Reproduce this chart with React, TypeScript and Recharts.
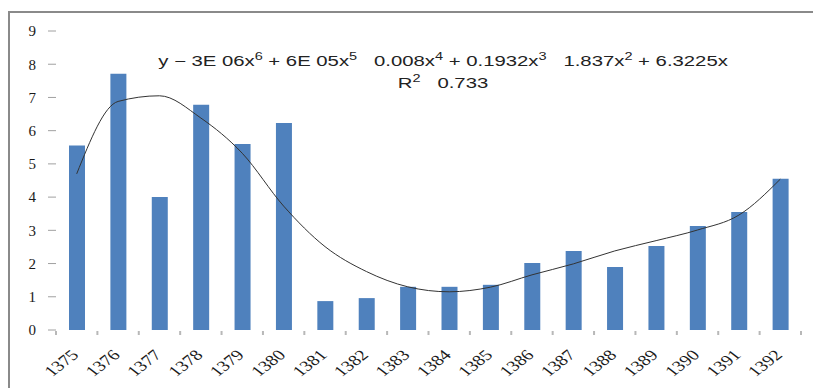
import React from 'react';
import { ComposedChart, Bar, Line, XAxis, YAxis } from 'recharts';

// yearly values (solar hijri years)
const years = ['1375', '1376', '1377', '1378', '1379', '1380', '1381', '1382', '1383', '1384', '1385', '1386', '1387', '1388', '1389', '1390', '1391', '1392'];
const values = [5.55, 7.71, 4.0, 6.78, 5.6, 6.23, 0.87, 0.96, 1.3, 1.3, 1.36, 2.02, 2.38, 1.9, 2.53, 3.13, 3.55, 4.55];
// 6th order polynomial trend, read at each year
const trend = [4.7, 6.88, 7.05, 6.38, 5.32, 3.73, 2.51, 1.76, 1.3, 1.15, 1.29, 1.66, 1.99, 2.38, 2.69, 3.01, 3.46, 4.54];
const yTicks = [0, 1, 2, 3, 4, 5, 6, 7, 8, 9];

const data = years.map((year, i) => ({ year, value: values[i], trend: trend[i] }));

const WIDTH = 813;
const HEIGHT = 388;
const margin = { top: 31, right: 12, bottom: 8, left: 10 };
const Y_AXIS_W = 46;
const X_AXIS_H = 50;
const halfBand = (WIDTH - margin.left - margin.right - Y_AXIS_W) / years.length / 2;
const axisTop = HEIGHT - margin.bottom - X_AXIS_H;

const serif = '"Liberation Serif", serif';

// year label, rotated, plus small marks on the category edges
const YearTick = (props: any) => {
  const { x, y, payload, index } = props;
  const isLast = index === years.length - 1;
  return (
    <g>
      <rect x={x - halfBand - 1} y={axisTop + 1} width={2} height={4} fill="#b8b8b8" />
      {isLast && <rect x={x + halfBand - 1} y={axisTop + 1} width={2} height={4} fill="#b8b8b8" />}
      <g transform={`translate(${x + 3},${y + 14}) scale(1.3,1) rotate(-45)`}>
        <text textAnchor="end" fontFamily={serif} fontSize={15} fill="#1a1a1a">
          {payload.value}
        </text>
      </g>
    </g>
  );
};

const sup = { fontSize: 10, lineHeight: 0 };

export default function App() {
  return (
    <div style={{ position: 'absolute', left: 0, top: 0, width: WIDTH, height: HEIGHT, background: '#fff', overflow: 'hidden' }}>
      {/* chart frame: top and left edges */}
      <div style={{ position: 'absolute', left: 8, top: 11, width: 805, height: 2, background: '#8a8a8a' }} />
      <div style={{ position: 'absolute', left: 8, top: 11, width: 2, height: 377, background: '#8a8a8a' }} />
      <ComposedChart width={WIDTH} height={HEIGHT} data={data} margin={margin}>
        <XAxis
          dataKey="year"
          interval={0}
          axisLine={false}
          tickLine={false}
          tickSize={6}
          tickMargin={6}
          tick={<YearTick />}
          height={X_AXIS_H}
        />
        <YAxis
          domain={[0, 9]}
          ticks={yTicks}
          width={Y_AXIS_W}
          axisLine={false}
          tickLine={{ stroke: '#a0a0a0' }}
          tickSize={8}
          tickMargin={12}
          tick={{ fontFamily: serif, fontSize: 15, fill: '#1a1a1a' }}
        />
        <Bar dataKey="value" fill="#4F81BD" barSize={16} isAnimationActive={false} />
        <Line
          dataKey="trend"
          type="monotone"
          stroke="#333"
          strokeWidth={1}
          dot={false}
          isAnimationActive={false}
        />
      </ComposedChart>
      {/* trendline equation */}
      <div
        style={{
          position: 'absolute',
          left: 143,
          width: 600,
          top: 50,
          textAlign: 'center',
          fontFamily: '"Liberation Sans", sans-serif',
          fontSize: 14,
          lineHeight: '22px',
          color: '#222',
          whiteSpace: 'pre',
          transform: 'scaleX(1.45)',
        }}
      >
        <div>
          y − 3E 06x<sup style={sup}>6</sup> + 6E 05x<sup style={sup}>5</sup>   0.008x<sup style={sup}>4</sup> + 0.1932x
          <sup style={sup}>3</sup>   1.837x<sup style={sup}>2</sup> + 6.3225x
        </div>
        <div>
          R<sup style={sup}>2</sup>   0.733
        </div>
      </div>
    </div>
  );
}
